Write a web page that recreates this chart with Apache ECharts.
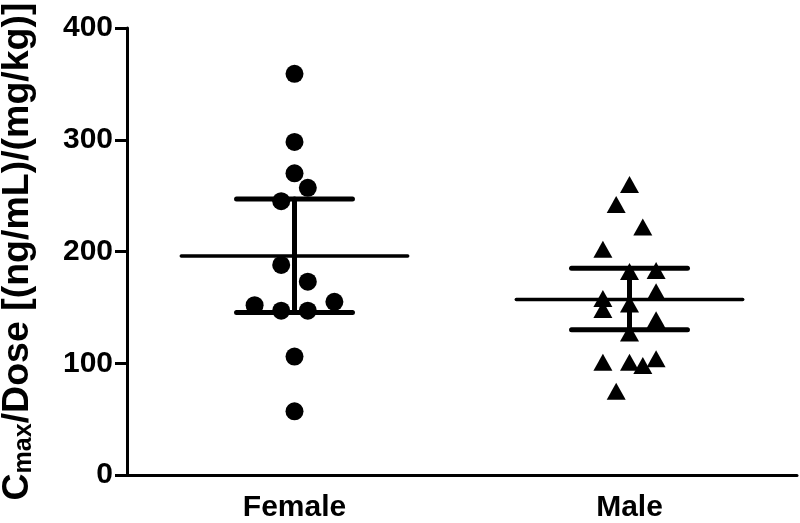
<!DOCTYPE html>
<html>
<head>
<meta charset="utf-8">
<script src="https://cdn.jsdelivr.net/npm/echarts@6/dist/echarts.min.js"></script>
<style>html,body{margin:0;padding:0;background:#fff}#c{width:800px;height:523px}</style>
</head>
<body>
<div id="c"></div>
<script>
// ---- data ----
const categories = ['Female', 'Male'];
const yTicks = [0, 100, 200, 300, 400];
const femaleValues = [359, 298, 270, 257, 245, 188, 173, 152, 147, 147, 155, 106, 57];
const femaleSlots  = [0, 0, 0, 1, -1, -1, 1, -3, -1, 1, 3, 0, 0];
const maleValues = [260, 242, 222, 202, 182, 183, 164, 158, 148, 153, 139, 127, 101, 101, 98, 104, 75];
const maleSlots  = [0, -1, 1, -2, 0, 2, 2, -2, -2, 0, 2, 0, -2, 0, 1, 2, -1];
const groupMean = [196, 157];
const groupLow  = [145.5, 130];
const groupHigh = [247, 185];

// ---- styles ----
const FONT = '"Liberation Sans", Arial, Helvetica, sans-serif';
const SLOT_PX = 13.3;
const MEAN_HALF = 0.338;  // fraction of band
const CAP_HALF = 0.173;

function pts(values, slots, ci) {
  return values.map((v, i) => ({ value: [ci, v], symbolOffset: [slots[i] * SLOT_PX, 0] }));
}

const chart = echarts.init(document.getElementById('c'), null, { renderer: 'canvas' });
chart.setOption({
  animation: false,
  grid: { left: 127, right: 3, top: 28, bottom: 48, containLabel: false, outerBoundsMode: 'none' },
  xAxis: {
    type: 'category',
    data: categories,
    boundaryGap: true,
    axisLine: { lineStyle: { color: '#000', width: 3 } },
    axisTick: { alignWithLabel: true, length: 13, lineStyle: { color: '#000', width: 3 } },
    axisLabel: { color: '#000', fontFamily: FONT, fontWeight: 'bold', fontSize: 30, margin: 18 },
    splitLine: { show: false }
  },
  yAxis: {
    type: 'value',
    min: yTicks[0], max: yTicks[yTicks.length - 1], interval: 100,
    name: '{a|C}{s|max}{a|/Dose [(ng/mL)/(mg/kg)]}',
    nameLocation: 'middle',
    nameRotate: 90,
    nameGap: 90,
    nameTextStyle: {
      rich: {
        a: { fontFamily: FONT, fontWeight: 'bold', fontSize: 37.5, color: '#000' },
        s: { fontFamily: FONT, fontWeight: 'bold', fontSize: 25, color: '#000', verticalAlign: 'bottom', padding: [12, 0, 0, 0] }
      }
    },
    axisLine: { show: true, lineStyle: { color: '#000', width: 3 } },
    axisTick: { show: true, length: 12, lineStyle: { color: '#000', width: 3 } },
    axisLabel: { color: '#000', fontFamily: FONT, fontWeight: 'bold', fontSize: 30, margin: 14 },
    splitLine: { show: false }
  },
  series: [
    {
      type: 'custom',
      z: 2,
      data: categories.map((c, i) => [i, groupMean[i], groupLow[i], groupHigh[i]]),
      renderItem: function (params, api) {
        const x = api.value(0);
        const m = api.coord([x, api.value(1)]);
        const lo = api.coord([x, api.value(2)]);
        const hi = api.coord([x, api.value(3)]);
        const band = api.size([1, 0])[0];
        const mh = band * MEAN_HALF, ch = band * CAP_HALF;
        const thick = { stroke: '#000', lineWidth: 5, lineCap: 'round' };
        return {
          type: 'group',
          children: [
            { type: 'line', shape: { x1: m[0] - mh, y1: m[1], x2: m[0] + mh, y2: m[1] }, style: { stroke: '#000', lineWidth: 3.4, lineCap: 'round' } },
            { type: 'line', shape: { x1: m[0], y1: hi[1], x2: m[0], y2: lo[1] }, style: thick },
            { type: 'line', shape: { x1: m[0] - ch, y1: hi[1], x2: m[0] + ch, y2: hi[1] }, style: thick },
            { type: 'line', shape: { x1: m[0] - ch, y1: lo[1], x2: m[0] + ch, y2: lo[1] }, style: thick }
          ]
        };
      }
    },
    {
      type: 'scatter', z: 3,
      symbol: 'circle', symbolSize: 18,
      itemStyle: { color: '#000', opacity: 1 },
      data: pts(femaleValues, femaleSlots, 0)
    },
    {
      type: 'scatter', z: 3,
      symbol: 'triangle', symbolSize: [19, 17],
      itemStyle: { color: '#000', opacity: 1 },
      data: pts(maleValues, maleSlots, 1)
    }
  ]
});
</script>
</body>
</html>
